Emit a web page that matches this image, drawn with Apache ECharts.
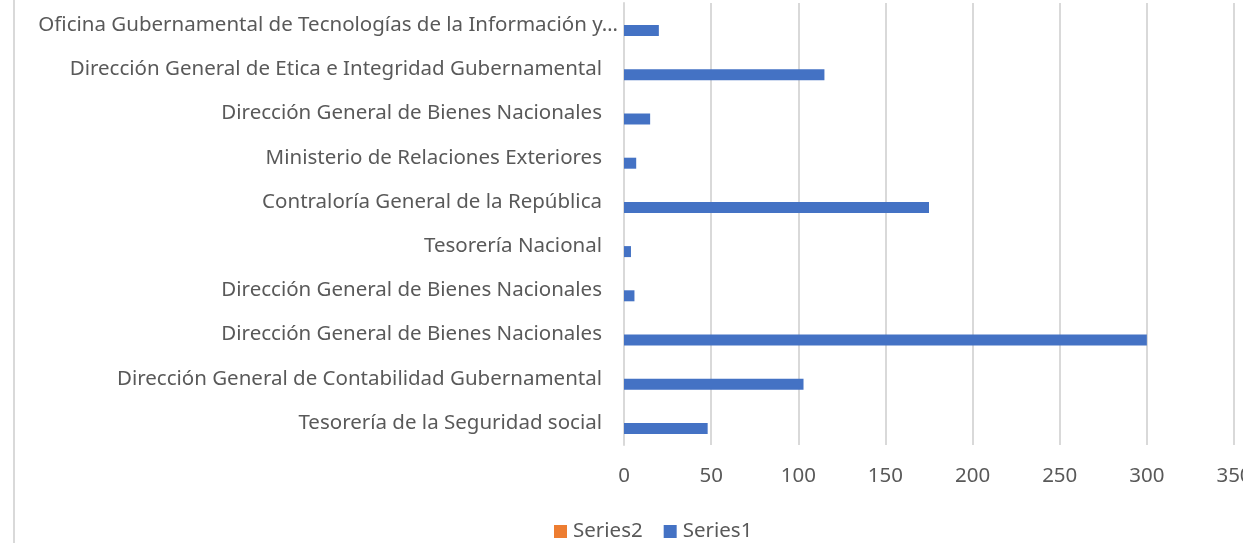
<!doctype html>
<html lang="es">
<head>
    <meta charset="UTF-8" />
    <title>Series1 por institución</title>
    <style>
        html, body { margin: 0; padding: 0; background: #fff; }
        #chart { width: 1243px; height: 543px; }
    </style>
</head>
<body>
    <div id="chart"></div>
    <script src="https://cdn.jsdelivr.net/npm/echarts@6/dist/echarts.min.js"></script>
    <script>
        // categorías (de abajo hacia arriba, como en el eje)
        var categories = [
            'Tesorería de la Seguridad social',
            'Dirección General de Contabilidad Gubernamental',
            'Dirección General de Bienes Nacionales',
            'Dirección General de Bienes Nacionales',
            'Tesorería Nacional',
            'Contraloría General de la República',
            'Ministerio de Relaciones Exteriores',
            'Dirección General de Bienes Nacionales',
            'Dirección General de Etica e Integridad Gubernamental',
            'Oficina Gubernamental de Tecnologías de la Información y…'
        ];
        var series1 = [48, 103, 300, 6, 4, 175, 7, 15, 115, 20];
        var series2 = [0, 0, 0, 0, 0, 0, 0, 0, 0, 0];
        var xTicks = [0, 50, 100, 150, 200, 250, 300, 350];

        var chart = echarts.init(document.getElementById('chart'));
        var txt = '#595959';
        var font = 'Noto Sans';
        var fs = 20.5;

        chart.setOption({
            animation: false,
            textStyle: { fontFamily: font },
            graphic: [{
                type: 'line',
                shape: { x1: 14, y1: 0, x2: 14, y2: 543 },
                style: { stroke: '#d9d9d9', lineWidth: 2 }
            }],
            grid: { left: 624, right: 9, top: 3, bottom: 98, outerBoundsMode: 'none', containLabel: false },
            legend: {
                top: 516,
                left: 549,
                itemWidth: 13,
                itemHeight: 13,
                itemGap: 21,
                icon: 'rect',
                textStyle: { color: txt, fontSize: fs, fontFamily: font, padding: [0, 0, 0, 1] },
                data: ['Series2', 'Series1']
            },
            xAxis: {
                type: 'value',
                min: xTicks[0],
                max: xTicks[xTicks.length - 1],
                interval: 50,
                axisLine: { show: false },
                axisTick: { show: false },
                splitLine: { lineStyle: { color: '#d9d9d9', width: 2 } },
                axisLabel: { color: txt, fontSize: fs, margin: 21, fontFamily: font }
            },
            yAxis: {
                type: 'category',
                data: categories,
                axisLine: { show: true, lineStyle: { color: '#d9d9d9', width: 2 } },
                axisTick: { show: false },
                axisLabel: {
                    color: txt, fontSize: fs, margin: 6, fontFamily: font,
                    formatter: function (v, i) {
                        return i === categories.length - 1 ? '{o|' + v + '}' : '{n|' + v + '}';
                    },
                    rich: {
                        o: { color: txt, fontSize: fs, fontFamily: font },
                        n: { color: txt, fontSize: fs, fontFamily: font, padding: [0, 16, 0, 0] }
                    }
                }
            },
            series: [
                {
                    name: 'Series2',
                    type: 'bar',
                    data: series2,
                    itemStyle: { color: '#ED7D31' },
                    barWidth: 11,
                    barGap: '0%'
                },
                {
                    name: 'Series1',
                    type: 'bar',
                    data: series1,
                    itemStyle: { color: '#4472C4' },
                    barWidth: 11,
                    barGap: '0%'
                }
            ]
        });
    </script>
</body>
</html>
